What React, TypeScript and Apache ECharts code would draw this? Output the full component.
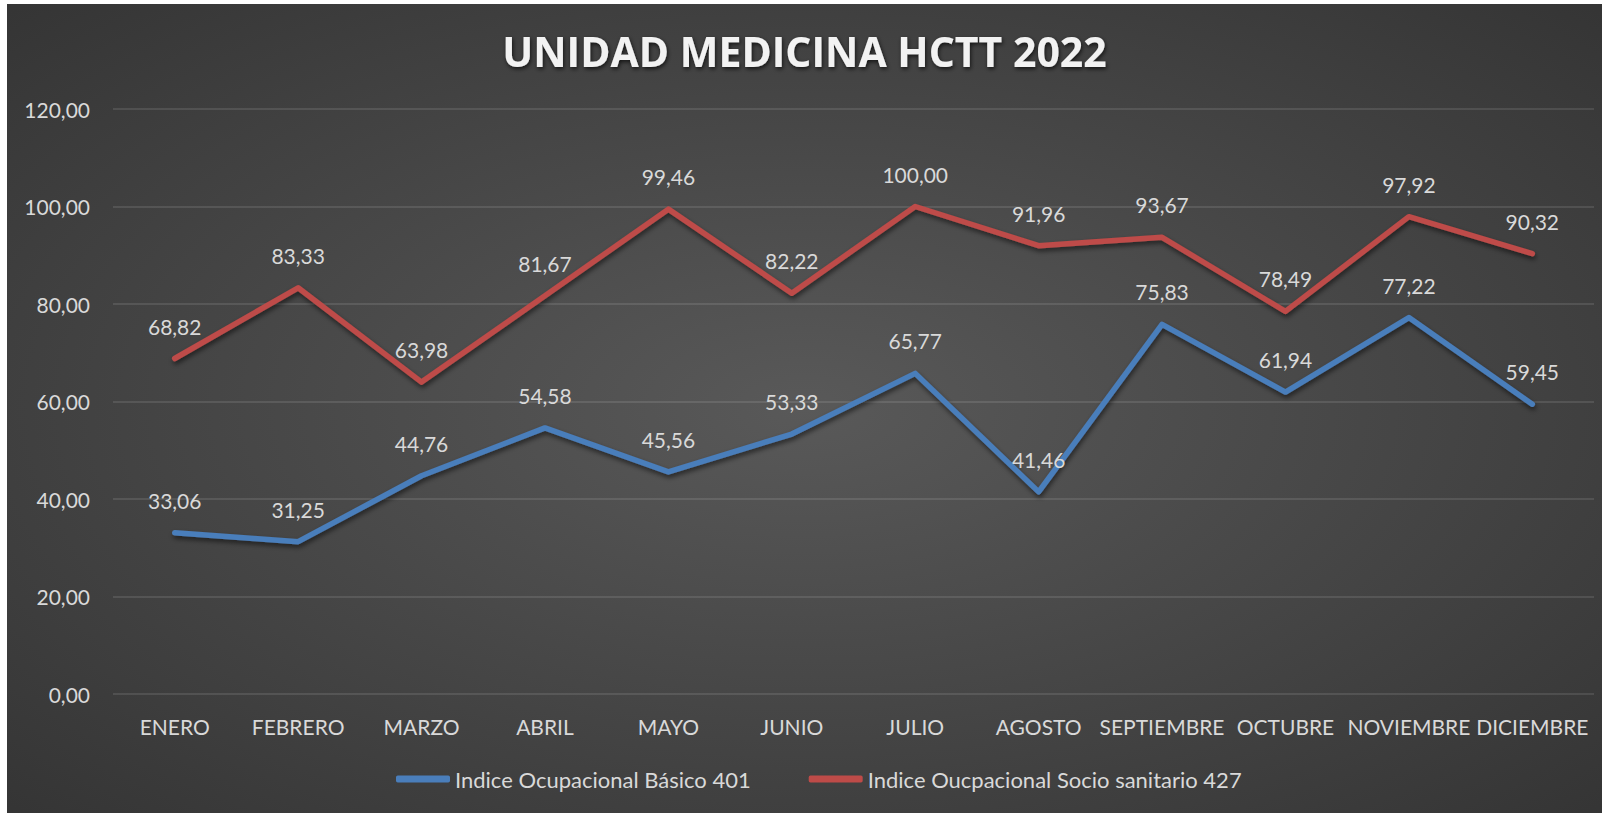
import React, { useEffect, useRef } from "react";
import * as echarts from "echarts";

const categories = ["ENERO", "FEBRERO", "MARZO", "ABRIL", "MAYO", "JUNIO", "JULIO", "AGOSTO", "SEPTIEMBRE", "OCTUBRE", "NOVIEMBRE", "DICIEMBRE"];
const basico401 = [33.06, 31.25, 44.76, 54.58, 45.56, 53.33, 65.77, 41.46, 75.83, 61.94, 77.22, 59.45];
const socio427 = [68.82, 83.33, 63.98, 81.67, 99.46, 82.22, 100.0, 91.96, 93.67, 78.49, 97.92, 90.32];
const seriesNames = ["Indice Ocupacional Básico 401", "Indice Oucpacional Socio sanitario 427"];
const titleText = "UNIDAD MEDICINA HCTT 2022";

const FONT = "Lato, 'Open Sans', sans-serif";
const fmt = (v: number) => v.toFixed(2).replace(".", ",");

export default function App() {
  const ref = useRef<HTMLDivElement>(null);
  useEffect(() => {
    if (!ref.current) return;
    const chart = echarts.init(ref.current, undefined, { renderer: "svg" });
    const lineSeries = (name: string, data: number[], color: string) => ({
      name,
      type: "line",
      data,
      showSymbol: true,
      symbol: "circle",
      symbolSize: 0,
      lineStyle: {
        color,
        width: 5.5,
        cap: "round",
        join: "round",
        shadowColor: "rgba(0,0,0,0.55)",
        shadowBlur: 5,
        shadowOffsetY: 3,
        shadowOffsetX: 1,
      },
      itemStyle: { color },
      label: {
        show: true,
        position: "top",
        distance: 22,
        color: "#d9d9d9",
        fontSize: 21,
        fontFamily: FONT,
        formatter: (p: any) => fmt(p.value),
      },
      emphasis: { disabled: true },
    });
    chart.setOption({
      animation: false,
      backgroundColor: {
        type: "radial",
        x: 0.5,
        y: 0.5,
        r: 1.05,
        colorStops: [
          { offset: 0, color: "#595959" },
          { offset: 1, color: "#232323" },
        ],
      },
      textStyle: { fontFamily: FONT },
      title: {
        text: titleText,
        left: "center",
        top: 21,
        textStyle: {
          color: "#f2f2f2",
          fontSize: 41,
          fontWeight: "bold",
          fontFamily: "'Open Sans', Lato, sans-serif",
          textShadowColor: "rgba(0,0,0,0.7)",
          textShadowBlur: 4,
          textShadowOffsetY: 2,
          textShadowOffsetX: 1,
        },
      },
      legend: {
        top: 759,
        left: 384,
        itemWidth: 54,
        itemHeight: 7,
        itemGap: 58,
        icon: "roundRect",
        textStyle: { color: "#d9d9d9", fontSize: 22, fontFamily: FONT },
        data: seriesNames,
      },
      grid: { left: 106, right: 8, top: 105, bottom: 119, containLabel: false },
      xAxis: {
        type: "category",
        data: categories,
        boundaryGap: true,
        axisLine: { show: false },
        axisTick: { show: false },
        axisLabel: { color: "#d9d9d9", fontSize: 21, margin: 22, fontFamily: FONT, interval: 0 },
      },
      yAxis: {
        type: "value",
        min: 0,
        max: 120,
        interval: 20,
        axisLine: { show: false },
        axisTick: { show: false },
        axisLabel: { color: "#d9d9d9", fontSize: 21, margin: 23, fontFamily: FONT, formatter: (v: number) => fmt(v) },
        splitLine: { lineStyle: { color: "rgba(255,255,255,0.14)", width: 1.5 } },
      },
      series: [
        lineSeries(seriesNames[0], basico401, "#4a7ebb"),
        lineSeries(seriesNames[1], socio427, "#be4b48"),
      ],
    });
    return () => chart.dispose();
  }, []);
  return (
    <div
      ref={ref}
      style={{ position: "absolute", left: 7, top: 4, width: 1595, height: 809 }}
    />
  );
}
